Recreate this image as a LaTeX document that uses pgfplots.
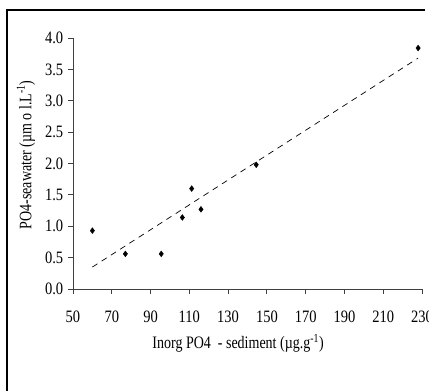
\documentclass[border=0pt]{standalone}
\usepackage{pgfplots}
\pgfplotsset{compat=1.18}
\usepackage{fontspec}
\setmainfont{Liberation Serif}
\begin{document}
\fontsize{14}{16}\selectfont
\begin{tikzpicture}
\useasboundingbox (0,0) rectangle (429pt,-391pt);
\draw[line width=2pt] (6.5pt,-392pt) -- (6.5pt,-9.5pt) -- (425pt,-9.5pt);
\begin{axis}[
  at={(73pt,-289pt)}, anchor=south west,
  scale only axis, width=349pt, height=251pt,
  xmin=50, xmax=230, ymin=0, ymax=4,
  axis x line=bottom, axis y line=left,
  axis line style={-, black!75, line width=0.8pt},
  xtick={50,70,...,230}, ytick={0,0.5,...,4},
  tick align=outside, major tick length=5pt,
  tick style={black!75, line width=0.8pt},
  /pgf/number format/assume math mode=true,
  yticklabel style={/pgf/number format/fixed, /pgf/number format/fixed zerofill, /pgf/number format/precision=1},
  xticklabel style={/pgf/number format/fixed, yshift=-9.5pt},
  ticklabel style={font=\fontsize{14.5}{16}\selectfont, yscale=1.2},
  xlabel={Inorg PO4 \ - sediment (µg.g\textsuperscript{-1})},
  ylabel={PO4-seawater (µm o l.L\textsuperscript{-1})},
  label style={font=\fontsize{14}{16}\selectfont, yscale=1.25},
  xlabel style={at={(rel axis cs:0.473,-0.216)}, anchor=center},
  ylabel style={at={(rel axis cs:-0.135,0.534)}, anchor=center},
  clip=false,
]
\addplot[only marks, mark=diamond*, mark size=2.9pt, black] coordinates {
  (60,0.93) (77,0.56) (95.5,0.56) (106.4,1.14) (111.2,1.60) (116,1.27) (144.5,1.98) (228,3.84)
};
\addplot[black, dashed, dash pattern=on 6pt off 5pt, line width=0.7pt] coordinates {
  (60,0.35) (228,3.68)
};
\end{axis}
\end{tikzpicture}
\end{document}
